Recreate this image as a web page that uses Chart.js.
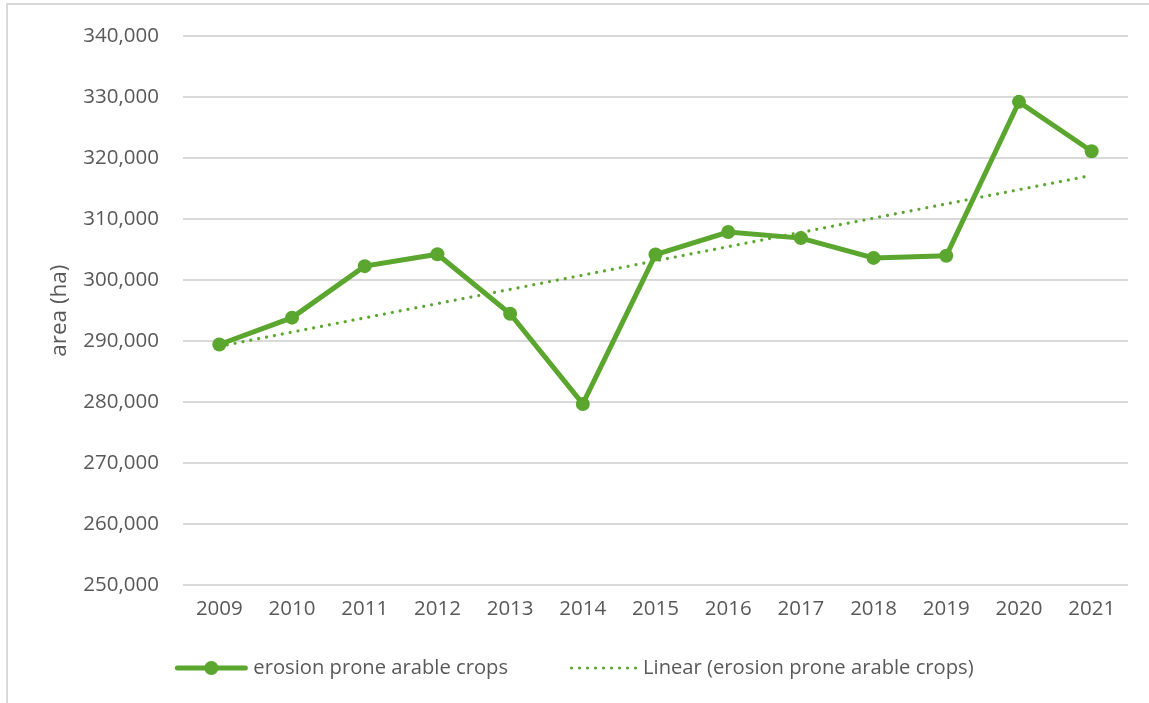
<!DOCTYPE html>
<html>
<head>
<meta charset="utf-8">
<script src="https://cdn.jsdelivr.net/npm/chart.js@4/dist/chart.umd.min.js"></script>
<style>
  html, body { margin: 0; padding: 0; background: #fff; overflow: hidden; }
  #wrap { position: relative; width: 1149px; height: 703px; }
  #frame { position: absolute; left: 6px; top: 3px; width: 1200px; height: 760px; border: 2px solid #d9d9d9; box-sizing: border-box; pointer-events: none; }
  canvas { position: absolute; left: 0; top: 0; }
</style>
</head>
<body>
<div id="wrap">
  <div id="frame"></div>
  <canvas id="c" width="1149" height="703"></canvas>
</div>
<script>
const categories = ['2009','2010','2011','2012','2013','2014','2015','2016','2017','2018','2019','2020','2021'];
const seriesValues = [289450, 293850, 302300, 304250, 294500, 279700, 304200, 307900, 306900, 303650, 304000, 329250, 321150];
const seriesLabel = 'erosion prone arable crops';
const trendLabel = 'Linear (erosion prone arable crops)';
const yAxisTitle = 'area (ha)';
const yMin = 250000, yMax = 340000, yStep = 10000;

// Linear least-squares trendline computed from the series (as the spreadsheet trendline does)
function linearTrend(vals) {
  const n = vals.length;
  let sx = 0, sy = 0, sxy = 0, sxx = 0;
  vals.forEach((v, i) => { sx += i; sy += v; sxy += i * v; sxx += i * i; });
  const slope = (n * sxy - sx * sy) / (n * sxx - sx * sx);
  const icpt = (sy - slope * sx) / n;
  return vals.map((_, i) => icpt + slope * i);
}
const trendValues = linearTrend(seriesValues);

const GREEN = '#5aa62e';
const TEXT = '#595959';
const FONT = "'Open Sans', 'Noto Sans', sans-serif";

const legendPlugin = {
  id: 'customLegend',
  afterDraw(chart) {
    const ctx = chart.ctx;
    ctx.save();
    ctx.font = '20.2px ' + FONT;
    const w1 = ctx.measureText(seriesLabel).width;
    const w2 = ctx.measureText(trendLabel).width;
    const s1 = 72, g1 = 6, gap = 62, s2 = 66, g2 = 7;
    const total = s1 + g1 + w1 + gap + s2 + g2 + w2;
    let x = chart.width / 2 - total / 2;
    const y = 668;
    // series sample
    ctx.strokeStyle = GREEN; ctx.lineWidth = 5; ctx.lineCap = 'round';
    ctx.beginPath(); ctx.moveTo(x + 2, y); ctx.lineTo(x + s1 - 2, y); ctx.stroke();
    ctx.fillStyle = GREEN;
    ctx.beginPath(); ctx.arc(x + s1 / 2, y, 7, 0, Math.PI * 2); ctx.fill();
    x += s1 + g1;
    ctx.fillStyle = TEXT; ctx.textBaseline = 'middle'; ctx.textAlign = 'left';
    ctx.fillText(seriesLabel, x, y);
    x += w1 + gap;
    // trend sample
    ctx.fillStyle = GREEN;
    for (let dx = 1.5; dx <= s2; dx += 8) {
      ctx.beginPath(); ctx.arc(x + dx, y, 1.6, 0, Math.PI * 2); ctx.fill();
    }
    x += s2 + g2;
    ctx.fillStyle = TEXT;
    ctx.fillText(trendLabel, x, y);
    ctx.restore();
  }
};

new Chart(document.getElementById('c'), {
  type: 'line',
  data: {
    labels: categories,
    datasets: [
      {
        label: seriesLabel,
        data: seriesValues,
        borderColor: GREEN,
        backgroundColor: GREEN,
        borderWidth: 5,
        pointRadius: 7,
        pointHoverRadius: 7,
        pointBackgroundColor: GREEN,
        pointBorderWidth: 0,
        tension: 0,
        order: 1
      },
      {
        label: trendLabel,
        data: trendValues,
        borderColor: GREEN,
        borderWidth: 3.2,
        borderDash: [0.01, 8],
        borderCapStyle: 'round',
        pointRadius: 0,
        tension: 0,
        order: 2
      }
    ]
  },
  options: {
    responsive: false,
    animation: false,
    events: [],
    layout: { padding: { left: 46, right: 21, top: 33, bottom: 15 + 40 } },
    plugins: {
      legend: { display: false },
      tooltip: { enabled: false },
      title: { display: false }
    },
    scales: {
      x: {
        offset: true,
        grid: { display: false, drawTicks: false },
        border: { display: false },
        ticks: { color: TEXT, font: { family: FONT, size: 20.5 }, padding: 12, maxRotation: 0 },
        afterFit(scale) { scale.height = 63; }
      },
      y: {
        min: yMin, max: yMax,
        grid: { color: '#d9d9d9', lineWidth: 2, drawTicks: false },
        border: { display: false },
        ticks: {
          stepSize: yStep,
          color: TEXT,
          font: { family: FONT, size: 20.5 },
          padding: 24,
          callback: v => v.toLocaleString('en-US')
        },
        title: {
          display: true,
          text: yAxisTitle,
          color: TEXT,
          font: { family: FONT, size: 22.5 },
          padding: { top: 0, bottom: 0 }
        },
        afterFit(scale) { scale.width = 137; }
      }
    }
  },
  plugins: [legendPlugin]
});
</script>
</body>
</html>
